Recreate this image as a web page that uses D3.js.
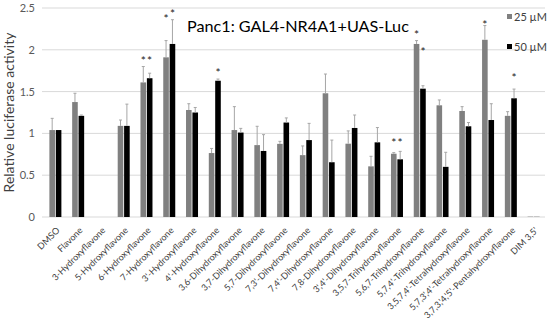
<!DOCTYPE html>
<html>
<head>
<meta charset="utf-8">
<script src="https://cdn.jsdelivr.net/npm/d3@7"></script>
<style>
  body { margin: 0; background: #fff; }
  text { font-family: Lato, "Open Sans", sans-serif; }
</style>
</head>
<body>
<svg id="chart" width="550" height="330"></svg>
<script>
const compounds = ["DMSO", "Flavone", "3-Hydroxyflavone", "5-Hydroxyflavone", "6-Hydroxyflavone",
  "7-Hydroxyflavone", "3'-Hydroxyflavone", "4'-Hydroxyflavone", "3,6-Dihydroxyflavone",
  "3,7-Dihydroxyflavone", "5,7-Dihydroxyflavone", "7,3'-Dihydroxyflavone", "7,4'-Dihydroxyflavone",
  "7,8-Dihydroxyflavone", "3',4'-Dihydroxyflavone", "3,5,7-Trihydroxyflavone",
  "5,6,7-Trihydroxyflavone", "5,7,4'-Trihydroxyflavone", "3,5,7,4'-Tetrahydroxyflavone",
  "5,7,3',4'-Tetrahydroxyflavone", "3,7,3,'4,'5'-Pentahydroxyflavone", "DIM 3,5'"];

// mean values
const uM25 = [1.04, 1.375, 0, 1.09, 1.61, 1.91, 1.28, 0.765, 1.04, 0.86, 0.875, 0.74, 1.48,
  0.877, 0.606, 0.757, 2.07, 1.336, 1.268, 2.12, 1.21, 0.01];
const uM50 = [1.04, 1.21, 0, 1.09, 1.66, 2.07, 1.25, 1.63, 1.01, 0.79, 1.13, 0.92, 0.655,
  1.065, 0.893, 0.69, 1.535, 0.60, 1.085, 1.16, 1.42, 0.01];
// error bar size (upper)
const err25 = [0.14, 0.105, 0, 0.07, 0.19, 0.2, 0.075, 0.055, 0.28, 0.225, 0.03, 0.11, 0.23,
  0.153, 0.12, 0.013, 0.04, 0.064, 0.052, 0.17, 0.05, 0];
const err50 = [0, 0.01, 0, 0.26, 0.06, 0.29, 0.06, 0.02, 0.05, 0.195, 0.055, 0.2, 0.265,
  0.155, 0.177, 0.095, 0.035, 0.174, 0.045, 0.195, 0.11, 0];
// significance stars (level where the star is drawn, null = none)
const star25 = [null, null, null, null, 1.9, 2.4, null, null, null, null, null, null, null,
  null, null, 0.92, 2.21, null, null, 2.33, null, null];
const star50 = [null, null, null, null, 1.9, 2.456, null, 1.75, null, null, null, null, null,
  null, null, 0.92, 2.0, null, null, null, 1.69, null];

const yTicks = [0, 0.5, 1, 1.5, 2, 2.5];
const seriesNames = ["25 µM", "50 µM"];
const colors = ["#808080", "#000000"];

const svg = d3.select("#chart");
const mLeft = 44, mRight = 545, mTop = 8, mBottom = 217;

const x = d3.scaleBand().domain(compounds).range([mLeft, mRight]);
const y = d3.scaleLinear().domain([0, 2.5]).range([mBottom, mTop]);

const barW = 5.6, gap = 0.8;

// grid
svg.append("g").selectAll("line").data(yTicks).enter().append("line")
  .attr("x1", mLeft - 2).attr("x2", mRight)
  .attr("y1", d => y(d)).attr("y2", d => y(d))
  .attr("stroke", "#d9d9d9").attr("stroke-width", 1);

// y axis
const yAxis = d3.axisLeft(y).tickValues(yTicks).tickSize(0).tickPadding(7)
  .tickFormat(d => d);
const ya = svg.append("g").attr("transform", "translate(" + (mLeft - 2) + ",0)").call(yAxis);
ya.select(".domain").remove();
ya.selectAll("text").attr("fill", "#595959").style("font-size", "11px")
  .style("font-family", "Lato, sans-serif");

const series = [uM25, uM50];
const errs = [err25, err50];
const stars = [star25, star50];
const offset = s => s === 0 ? -gap / 2 - barW : gap / 2;

series.forEach((vals, s) => {
  const off = offset(s);
  svg.append("g").selectAll("rect").data(vals).enter().append("rect")
    .attr("x", (d, i) => x(compounds[i]) + x.bandwidth() / 2 + off)
    .attr("width", barW)
    .attr("y", d => y(d))
    .attr("height", d => mBottom - y(d))
    .attr("fill", (d, i) => i === compounds.length - 1 ? "#bfbfbf" : colors[s]);

  // error bars
  const eg = svg.append("g").attr("stroke", "#a6a6a6").attr("stroke-width", 1);
  vals.forEach((d, i) => {
    if (errs[s][i] <= 0) return;
    const cx = x(compounds[i]) + x.bandwidth() / 2 + off + barW / 2;
    eg.append("line").attr("x1", cx).attr("x2", cx)
      .attr("y1", y(d)).attr("y2", y(d + errs[s][i]));
    eg.append("line").attr("x1", cx - 1.5).attr("x2", cx + 1.5)
      .attr("y1", y(d + errs[s][i])).attr("y2", y(d + errs[s][i]));
  });

  // stars
  stars[s].forEach((d, i) => {
    if (d === null) return;
    svg.append("text")
      .attr("x", x(compounds[i]) + x.bandwidth() / 2 + off + barW / 2)
      .attr("y", y(d) + 6.5)
      .attr("text-anchor", "middle")
      .style("font-size", "12px")
      .attr("fill", "#222")
      .text("*");
  });
});

// x labels
svg.append("g").selectAll("text").data(compounds).enter().append("text")
  .attr("transform", d => "translate(" + (x(d) + x.bandwidth() / 2 + 5) + "," + (mBottom + 14) + ") rotate(-45)")
  .attr("text-anchor", "end")
  .attr("fill", "#404040")
  .style("font-size", "9px")
  .text(d => d);

// y title
svg.append("text")
  .attr("transform", "translate(14," + ((mTop + mBottom) / 2) + ") rotate(-90)")
  .attr("text-anchor", "middle")
  .attr("fill", "#404040")
  .style("font-size", "14px")
  .text("Relative luciferase activity");

// chart title
svg.append("text")
  .attr("x", 187).attr("y", 32)
  .attr("fill", "#000")
  .style("font-size", "16.2px")
  .text("Panc1: GAL4-NR4A1+UAS-Luc");

// legend
seriesNames.forEach((n, s) => {
  const ly = 16.5 + s * 30;
  svg.append("rect").attr("x", 507).attr("y", ly - 2.5).attr("width", 5).attr("height", 5)
    .attr("fill", colors[s]);
  svg.append("text").attr("x", 514).attr("y", ly + 4)
    .attr("fill", "#404040").style("font-size", "11px").text(n);
});
</script>
</body>
</html>
